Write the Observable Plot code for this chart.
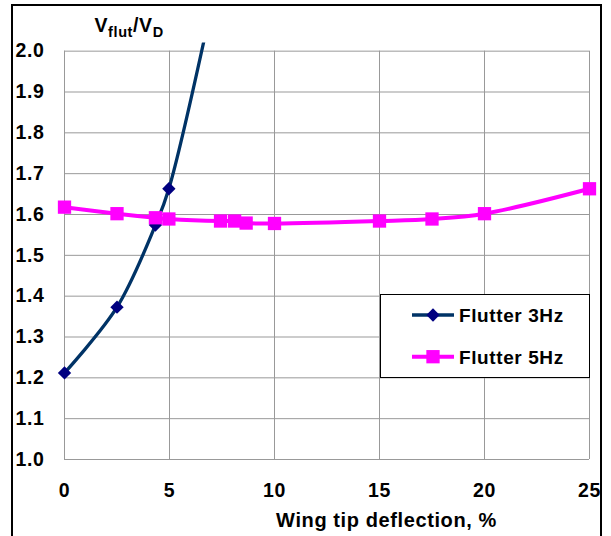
<!DOCTYPE html>
<html><head><meta charset="utf-8">
<script src="https://cdn.jsdelivr.net/npm/d3@7"></script>
<script src="https://cdn.jsdelivr.net/npm/@observablehq/plot@0.6"></script>
<style>
body{margin:0;background:#fff;}
#wrap{position:relative;width:611px;height:536px;overflow:hidden;font-family:"Liberation Sans",Arial,sans-serif;}
#wrap svg{position:absolute;left:0;top:0;}
#border{position:absolute;left:11px;top:4px;width:587px;height:600px;border:2px solid #000;pointer-events:none;}
#legend{position:absolute;left:380px;top:294px;width:208px;height:82px;border:1px solid #000;background:#fff;}
</style></head><body>
<div id="wrap"></div>
<script>
// ---- data ----
const xTicks = [0, 5, 10, 15, 20, 25];
const yTicks = [1.0, 1.1, 1.2, 1.3, 1.4, 1.5, 1.6, 1.7, 1.8, 1.9, 2.0];
const xTitle = "Wing tip deflection, %";
const yTitleParts = ["V", "flut", "/V", "D"];   // odd entries are subscripts
const seriesNames = ["Flutter 3Hz", "Flutter 5Hz"];
const seriesColors = ["#003366", "#FF00FF"];
const markerColors = ["#000080", "#FF00FF"];
const x3 = [0, 2.5, 4.33, 4.97, 7.5];
const y3 = [1.212, 1.373, 1.574, 1.663, 2.23];
const x5 = [0, 2.5, 4.33, 4.97, 7.43, 8.1, 8.65, 10, 15, 17.5, 20, 25];
const y5 = [1.618, 1.602, 1.592, 1.589, 1.584, 1.584, 1.579, 1.578, 1.584, 1.589, 1.602, 1.663];

const data3 = x3.map((x, i) => ({x, y: y3[i]}));
const data5 = x5.map((x, i) => ({x, y: y5[i]}));
const yMax = d3.max(yTicks), yMin = d3.min(yTicks);
const yTitle = yTitleParts.join("");

const plot = Plot.plot({
  width: 611, height: 536,
  marginLeft: 64, marginRight: 22, marginTop: 42.5, marginBottom: 77,
  style: {fontFamily: "'Liberation Sans', Arial, sans-serif", fontWeight: "bold", fontSize: "19.5px", color: "#000", background: "transparent", letterSpacing: "0.6px", overflow: "visible"},
  x: {domain: [0, 25], ticks: xTicks, tickSize: 0, tickPadding: 24, label: null, tickFormat: d => String(d)},
  y: {domain: [1, 2.02], ticks: yTicks, tickSize: 0, tickPadding: 20, label: null, tickFormat: d3.format(".1f")},
  marks: [
    Plot.ruleY(yTicks, {stroke: "#999", strokeWidth: 1}),
    Plot.ruleX(xTicks, {y1: yMin, y2: yMax, stroke: "#999", strokeWidth: 1}),
    Plot.line(data3, {x: "x", y: "y", stroke: seriesColors[0], strokeWidth: 3.3, curve: "catmull-rom", clip: true}),
    Plot.dot(data3, {x: "x", y: "y", filter: d => d.y <= yMax, symbol: "diamond2", r: 6, fill: markerColors[0], stroke: null}),
    Plot.line(data5, {x: "x", y: "y", stroke: seriesColors[1], strokeWidth: 4, curve: "catmull-rom"}),
    Plot.dot(data5, {x: "x", y: "y", symbol: "square", r: 7.5, fill: markerColors[1], stroke: null}),
    Plot.text([xTitle], {frameAnchor: "bottom", dx: 59.5, dy: 67, lineAnchor: "bottom", fontSize: 20, fontWeight: "bold", fill: "#000", letterSpacing: "0.9px"}),
    Plot.text([yTitle], {frameAnchor: "top-left", textAnchor: "start", dx: 30, dy: -10.8, lineAnchor: "bottom", fontSize: 19.5, fontWeight: "bold", fill: "#000"})
  ]
});

// turn the y title into tspans with subscripts
d3.select(plot).selectAll("text").filter(function() { return this.textContent === yTitle; }).each(function() {
  const t = d3.select(this);
  t.text(null);
  let sub = false;
  yTitleParts.forEach((p, i) => {
    const isSub = i % 2 === 1;
    const ts = t.append("tspan").text(p);
    if (isSub) { ts.attr("font-size", 14.5).attr("dy", sub ? 0 : 4.3); }
    else { ts.attr("dy", sub ? -4.3 : 0); }
    sub = isSub;
  });
});

const wrap = document.getElementById("wrap");
wrap.appendChild(plot);

// legend
const legend = document.createElement("div");
legend.id = "legend";
const lsvg = d3.create("svg").attr("width", 208).attr("height", 82)
  .style("font-family", "'Liberation Sans', Arial, sans-serif").style("font-weight", "bold").style("font-size", "19px").style("letter-spacing", "0.6px");
seriesNames.forEach((name, i) => {
  const g = lsvg.append("g").attr("transform", `translate(0,${20 + i * 41.7})`);
  g.append("line").attr("x1", 31).attr("x2", 73).attr("stroke", seriesColors[i]).attr("stroke-width", i ? 4 : 3.3);
  if (i === 0) g.append("path").attr("d", d3.symbol(d3.symbolDiamond2, 113)()).attr("transform", "translate(52,0)").attr("fill", markerColors[i]);
  else g.append("path").attr("d", d3.symbol(d3.symbolSquare, 177)()).attr("transform", "translate(52,0)").attr("fill", markerColors[i]);
  g.append("text").attr("x", 78).attr("dy", "0.36em").attr("fill", "#000").text(name);
});
legend.appendChild(lsvg.node());
wrap.appendChild(legend);

const border = document.createElement("div");
border.id = "border";
wrap.appendChild(border);
</script>
</body></html>
